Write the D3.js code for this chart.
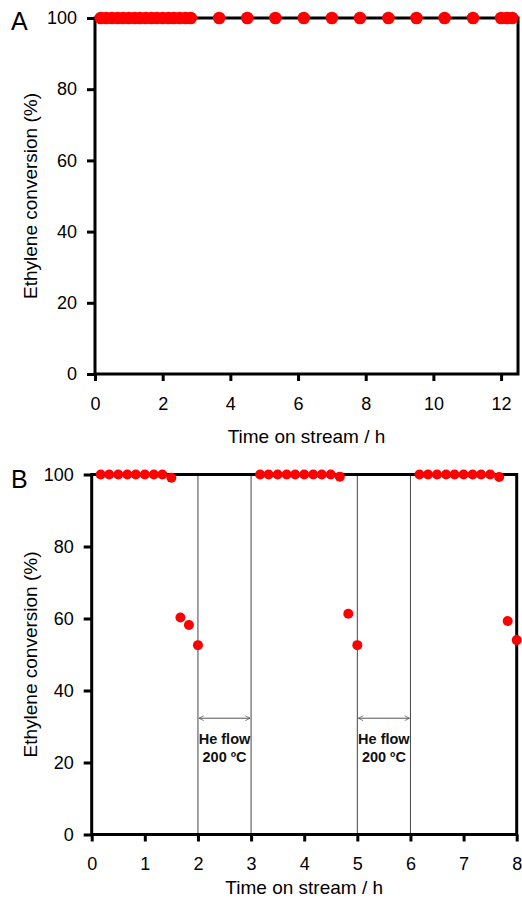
<!DOCTYPE html>
<html>
<head>
<meta charset="utf-8">
<script src="https://cdn.jsdelivr.net/npm/d3@7"></script>
<style>
  html, body { margin: 0; padding: 0; background: #fff; }
  svg { display: block; font-family: "Liberation Sans", Arial, sans-serif; }
</style>
</head>
<body>
<svg id="chart" width="522" height="902"></svg>
<script>
// Panel A: long run, conversion stays at 100 %
const timeA = [0.17, 0.33, 0.5, 0.67, 0.83, 1.0, 1.17, 1.33, 1.5, 1.67, 1.83, 2.0, 2.17, 2.33, 2.5, 2.67, 2.83,
               3.67, 4.5, 5.33, 6.17, 7.0, 7.83, 8.67, 9.5, 10.33, 11.17, 12.0, 12.17, 12.33];
const convA = [100, 100, 100, 100, 100, 100, 100, 100, 100, 100, 100, 100, 100, 100, 100, 100, 100,
               100, 100, 100, 100, 100, 100, 100, 100, 100, 100, 100, 100, 100];
const ticksXA = [0, 2, 4, 6, 8, 10, 12];

// Panel B: three cycles separated by He flow at 200 ºC
const timeB = [0.17, 0.33, 0.5, 0.67, 0.83, 1.0, 1.17, 1.33, 1.5, 1.67, 1.83, 2.0,
               3.17, 3.33, 3.5, 3.67, 3.83, 4.0, 4.17, 4.33, 4.5, 4.67, 4.83, 5.0,
               6.17, 6.33, 6.5, 6.67, 6.83, 7.0, 7.17, 7.33, 7.5, 7.67, 7.83, 8.0];
const convB = [100, 100, 100, 100, 100, 100, 100, 100, 99.1, 60.3, 58.2, 52.6,
               100, 100, 100, 100, 100, 100, 100, 100, 100, 99.4, 61.3, 52.6,
               100, 100, 100, 100, 100, 100, 100, 100, 100, 99.3, 59.3, 54.0];
const ticksXB = [0, 1, 2, 3, 4, 5, 6, 7, 8];

// He-flow treatment windows (start, end) and the level of the span arrow
const heWindows = [[2, 3], [5, 6]];
const arrowLevel = 32.3;
const heLines = ["He flow", "200 ºC"];

const ticksY = [0, 20, 40, 60, 80, 100];
const xTitle = "Time on stream / h";
const yTitle = "Ethylene conversion (%)";

const svg = d3.select("#chart");

const defs = svg.append("defs");
["start", "end"].forEach(k => {
  defs.append("marker")
    .attr("id", "chev-" + k)
    .attr("viewBox", "0 0 10 10")
    .attr("refX", k === "end" ? 9 : 1).attr("refY", 5)
    .attr("markerWidth", 6).attr("markerHeight", 6)
    .attr("markerUnits", "userSpaceOnUse")
    .attr("orient", "auto")
    .append("path")
    .attr("d", k === "end" ? "M1,1 L9,5 L1,9" : "M9,1 L1,5 L9,9")
    .attr("fill", "none").attr("stroke", "#555").attr("stroke-width", 1.2);
});

function panel(opt) {
  const x = d3.scaleLinear().domain(opt.xDomain).range([opt.left, opt.right]);
  const y = d3.scaleLinear().domain([0, 100]).range([opt.bottom, opt.top]);
  const g = svg.append("g");

  // He-flow windows: boundary lines, span arrow and caption
  if (opt.windows) {
    opt.windows.forEach(([a, b]) => {
      [a, b].forEach(t => {
        g.append("line")
          .attr("x1", x(t)).attr("x2", x(t))
          .attr("y1", y(0)).attr("y2", y(100))
          .attr("stroke", "#444").attr("stroke-width", 1);
      });
      g.append("line")
        .attr("x1", x(a) + 1).attr("x2", x(b) - 1)
        .attr("y1", y(arrowLevel)).attr("y2", y(arrowLevel))
        .attr("stroke", "#555").attr("stroke-width", 1)
        .attr("marker-start", "url(#chev-start)")
        .attr("marker-end", "url(#chev-end)");
      heLines.forEach((s, i) => {
        g.append("text")
          .attr("x", x((a + b) / 2))
          .attr("y", y(arrowLevel) + 26 + i * 18)
          .attr("text-anchor", "middle")
          .attr("font-size", 14.5).attr("font-weight", "bold")
          .attr("fill", "#111")
          .text(s);
      });
    });
  }

  // box frame
  g.append("rect")
    .attr("x", opt.left).attr("y", opt.top)
    .attr("width", opt.right - opt.left).attr("height", opt.bottom - opt.top)
    .attr("fill", "none").attr("stroke", "#000").attr("stroke-width", 3);

  // axes
  const xAxis = d3.axisBottom(x).tickValues(opt.xTicks).tickSize(7).tickPadding(16).tickFormat(d3.format("d"));
  const yAxis = d3.axisLeft(y).tickValues(ticksY).tickSize(8).tickPadding(10);

  const gx = g.append("g").attr("transform", `translate(0,${opt.bottom})`).call(xAxis);
  const gy = g.append("g").attr("transform", `translate(${opt.left},0)`).call(yAxis);
  [gx, gy].forEach(a => {
    a.select(".domain").remove();
    a.selectAll(".tick line").attr("stroke", "#000").attr("stroke-width", 3);
    a.selectAll(".tick text").attr("font-size", 18).attr("fill", "#000")
      .attr("font-family", "Liberation Sans, Arial, sans-serif");
  });

  // titles
  g.append("text")
    .attr("x", (opt.left + opt.right) / 2).attr("y", opt.xTitleY)
    .attr("text-anchor", "middle").attr("font-size", 19)
    .text(xTitle);
  g.append("text")
    .attr("transform", `translate(37,${(opt.top + opt.bottom) / 2}) rotate(-90)`)
    .attr("text-anchor", "middle").attr("font-size", 19)
    .text(yTitle);
  g.append("text")
    .attr("x", 11).attr("y", opt.labelY)
    .attr("font-size", 25)
    .text(opt.label);

  // markers
  g.append("g").selectAll("circle")
    .data(opt.t.map((t, i) => [t, opt.v[i]]))
    .join("circle")
    .attr("cx", d => x(d[0])).attr("cy", d => y(d[1]))
    .attr("r", opt.r).attr("fill", "#ff0000");
}

panel({
  label: "A", labelY: 30,
  xDomain: [0, 12.5], left: 95, right: 518, top: 18, bottom: 374,
  xTicks: ticksXA, xTitleY: 443,
  t: timeA, v: convA, r: 6.3
});

panel({
  label: "B", labelY: 488,
  xDomain: [0, 8], left: 91.7, right: 516.7, top: 474.5, bottom: 834.5,
  xTicks: ticksXB, xTitleY: 894,
  t: timeB, v: convB, r: 5,
  windows: heWindows
});
</script>
</body>
</html>
